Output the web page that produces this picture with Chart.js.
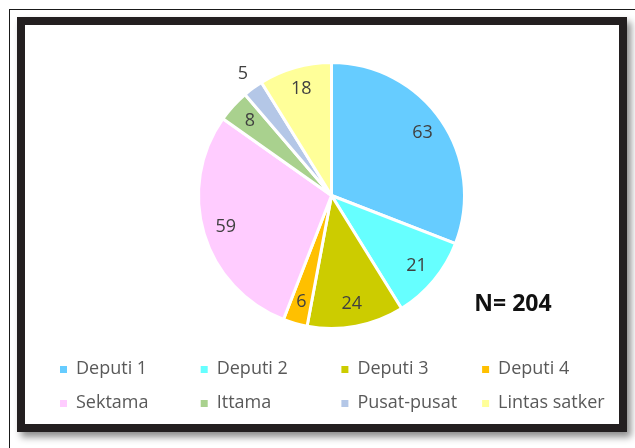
<!DOCTYPE html>
<html>
<head>
<meta charset="utf-8">
<script src="https://cdn.jsdelivr.net/npm/chart.js@4.4.0/dist/chart.umd.min.js"></script>
<style>
  body { margin: 0; background: #fff; width: 635px; height: 448px; overflow: hidden; position: relative; font-family: "Open Sans", sans-serif; }
  #frame { position: absolute; left: 9px; top: 9px; right: -10px; bottom: -10px; border-left: 1px solid #1a1a1a; border-top: 1px solid #1a1a1a; }
  #box { position: absolute; left: 17px; top: 17px; width: 610px; height: 415px; box-sizing: border-box; border: 8px solid #231f20; box-shadow: 4px 5px 7px rgba(0,0,0,0.45); background: #fff; }
  #wrap { position: absolute; left: 25px; top: 25px; width: 594px; height: 399px; }
</style>
</head>
<body>
<div id="frame"></div>
<div id="box"></div>
<div id="wrap"><canvas id="pieChart"></canvas></div>
<script>
var categories = ["Deputi 1", "Deputi 2", "Deputi 3", "Deputi 4", "Sektama", "Ittama", "Pusat-pusat", "Lintas satker"];
var counts = [63, 21, 24, 6, 59, 8, 5, 18];
var sliceColors = ["#66CCFF", "#66FFFF", "#CCCC00", "#FFC000", "#FFCCFF", "#A9D18E", "#B4C7E7", "#FFFF99"];

var total = counts.reduce(function (a, b) { return a + b; }, 0);

// value labels, "N=" note and the 4-column legend
var pieText = {
  id: 'pieText',
  afterDraw: function (chart) {
    var ctx = chart.ctx;
    var meta = chart.getDatasetMeta(0);
    ctx.save();
    ctx.textAlign = 'center';
    ctx.textBaseline = 'middle';
    ctx.font = '18px "Open Sans"';
    ctx.fillStyle = '#404040';
    meta.data.forEach(function (arc, i) {
      var p = arc.getProps(['x', 'y', 'startAngle', 'endAngle', 'outerRadius'], true);
      var mid = (p.startAngle + p.endAngle) / 2;
      // very thin slices get their label outside
      var r = counts[i] / total < 0.028 ? p.outerRadius * 1.13 : p.outerRadius * 0.83;
      ctx.fillText(counts[i], p.x + Math.cos(mid) * r, p.y + Math.sin(mid) * r);
    });

    ctx.font = 'bold 23px "Open Sans"';
    ctx.fillStyle = '#111';
    ctx.fillText('N= ' + total, 488, 279);

    ctx.textAlign = 'left';
    ctx.font = '18px "Open Sans"';
    categories.forEach(function (name, i) {
      var x = 35 + (i % 4) * 140.7;
      var y = 344 + Math.floor(i / 4) * 34;
      ctx.fillStyle = sliceColors[i];
      ctx.fillRect(x, y - 3, 7, 7);
      ctx.fillStyle = '#595959';
      ctx.fillText(name, x + 16, y);
    });
    ctx.restore();
  }
};

var ctx = document.getElementById("pieChart").getContext("2d");
var pieChart = new Chart(ctx, {
  type: 'pie',
  data: {
    labels: categories,
    datasets: [{
      data: counts,
      backgroundColor: sliceColors,
      borderColor: '#ffffff',
      borderWidth: 3
    }]
  },
  options: {
    responsive: true,
    maintainAspectRatio: false,
    animation: false,
    layout: { padding: { left: 172, right: 153, top: 36, bottom: 94 } },
    plugins: {
      legend: { display: false },
      tooltip: { enabled: false }
    }
  },
  plugins: [pieText]
});
</script>
</body>
</html>
